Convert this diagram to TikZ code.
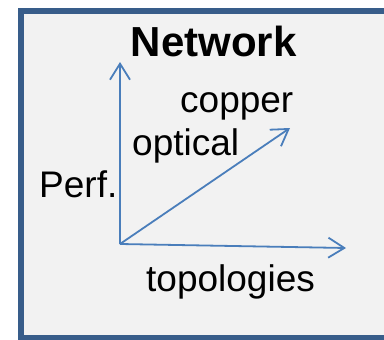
\documentclass[tikz,border=0pt]{standalone}
\usepackage{fontspec}
\setmainfont{Liberation Sans}
\usetikzlibrary{arrows.meta}
\definecolor{boxfill}{HTML}{F2F2F2}
\definecolor{boxline}{HTML}{385D8A}
\definecolor{axis}{HTML}{4A7EBB}
\tikzset{
  axisarrow/.style={draw=axis, line width=1.8pt, -{Straight Barb[length=16pt,width=20pt,line width=1.8pt]}},
  lbl/.style={anchor=base west, inner sep=0pt, font=\fontsize{37}{40}\selectfont},
  title/.style={anchor=base west, inner sep=0pt, font=\fontsize{42}{46}\selectfont\bfseries}
}
\begin{document}
\begin{tikzpicture}[x=1pt,y=-1pt]
\useasboundingbox (0,0) rectangle (384,340);
\node[draw=boxline, fill=boxfill, line width=5.5pt, anchor=north west, minimum width=372pt, minimum height=327pt, inner sep=0pt] (frame) at (18,8) {};
\coordinate (o) at (120,244);
\coordinate (up) at (120,62);
\coordinate (diag) at (290,128);
\coordinate (right) at (346,248);
\draw[axisarrow] (o) -- (up);
\draw[axisarrow] (o) -- (diag);
\draw[axisarrow] (o) -- (right);
\node[title] (network) at (130.5,56.7) {Network};
\node[lbl] (copper) at (180,112.7) {copper};
\node[lbl] (optical) at (132,155) {optical};
\node[lbl] (perf) at (39,197.7) {Perf.};
\node[lbl] (topo) at (146,291.7) {topologies};
\end{tikzpicture}
\end{document}
